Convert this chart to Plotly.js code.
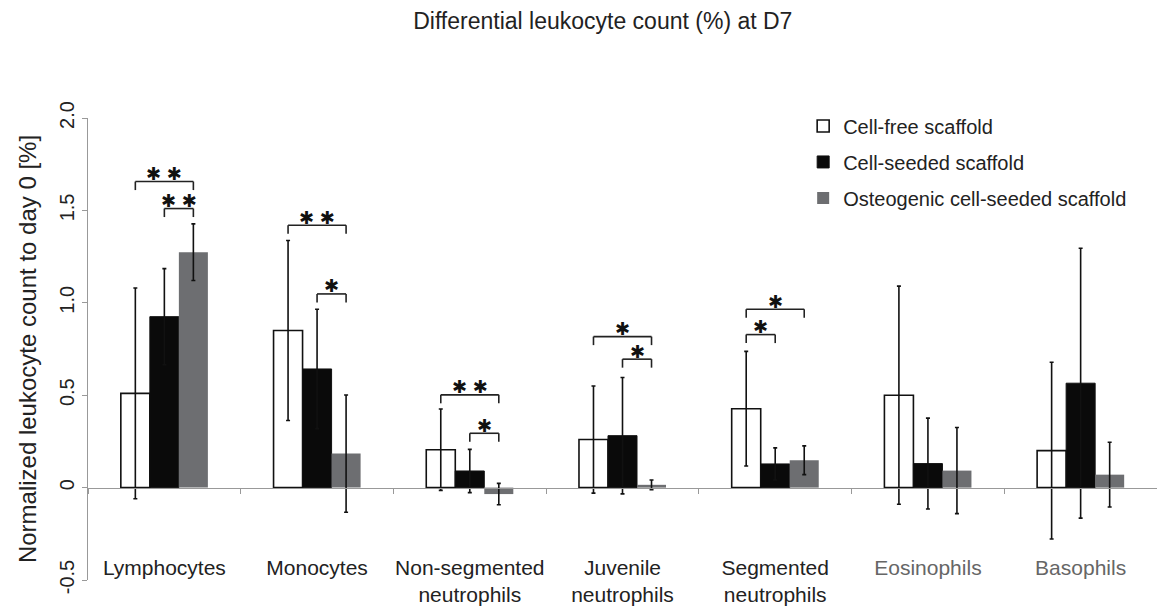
<!DOCTYPE html>
<html>
<head>
<meta charset="utf-8">
<script src="https://cdn.plot.ly/plotly-3.0.1.min.js"></script>
<style>html,body{margin:0;padding:0;background:#fff;}#chart{width:1157px;height:607px;}</style>
</head>
<body>
<div id="chart"></div>
<script>
// ---- data ----
const categories = ["Lymphocytes", "Monocytes", "Non-segmented neutrophils", "Juvenile neutrophils", "Segmented neutrophils", "Eosinophils", "Basophils"];
const tickLabels = ["Lymphocytes", "Monocytes", "Non-segmented<br>neutrophils", "Juvenile<br>neutrophils", "Segmented<br>neutrophils", "<span style='color:#666'>Eosinophils</span>", "<span style='color:#666'>Basophils</span>"];
const seriesNames = ["Cell-free scaffold", "Cell-seeded scaffold", "Osteogenic cell-seeded scaffold"];
const cellFree = [0.51, 0.85, 0.205, 0.26, 0.427, 0.50, 0.20];
const cellFreeErr = [0.57, 0.487, 0.22, 0.29, 0.31, 0.59, 0.478];
const cellSeeded = [0.925, 0.642, 0.09, 0.281, 0.128, 0.13, 0.565];
const cellSeededErr = [0.26, 0.323, 0.117, 0.315, 0.087, 0.246, 0.73];
const osteo = [1.274, 0.184, -0.035, 0.015, 0.148, 0.092, 0.07];
const osteoErr = [0.153, 0.317, 0.058, 0.026, 0.078, 0.233, 0.175];
const yTickVals = [-0.5, 0, 0.5, 1.0, 1.5, 2.0];
const yTickText = ["-0.5", "0", "0.5", "1.0", "1.5", "2.0"];
// significance brackets: category index, from series, to series, height, label
const bracketCat = [0, 0, 1, 1, 2, 2, 3, 3, 4, 4];
const bracketFrom = [0, 1, 0, 1, 0, 1, 0, 1, 0, 0];
const bracketTo = [2, 2, 2, 2, 2, 2, 2, 2, 1, 2];
const bracketY = [1.656, 1.51, 1.42, 1.048, 0.502, 0.294, 0.817, 0.695, 0.828, 0.965];
const bracketLabel = ["✱ ✱", "✱ ✱", "✱ ✱", "✱", "✱ ✱", "✱", "✱", "✱", "✱", "✱"];

// ---- styling ----
const bargap = 0.43;
const barW = (1 - bargap) / 3;
const dropY = 0.046;
const fontFam = "Liberation Sans, Arial, Helvetica, sans-serif";
const errStyle = (arr) => ({type: "data", array: arr, visible: true, color: "#111", thickness: 1.6, width: 2});

const traces = [
  {type: "bar", name: seriesNames[0], x: categories, y: cellFree, error_y: errStyle(cellFreeErr),
   marker: {color: "#ffffff", line: {color: "#111", width: 1.6}}, legendgroup: "a"},
  {type: "bar", name: seriesNames[1], x: categories, y: cellSeeded, error_y: errStyle(cellSeededErr),
   marker: {color: "#0a0a0a", line: {color: "#111", width: 1}}, legendgroup: "b"},
  {type: "bar", name: seriesNames[2], x: categories, y: osteo, error_y: errStyle(osteoErr),
   marker: {color: "#6d6e71", line: {color: "#6d6e71", width: 0}}, legendgroup: "c"}
];

const shapes = [];
const annotations = [];
for (let i = 0; i < bracketCat.length; i++) {
  const x1 = bracketCat[i] + (bracketFrom[i] - 1) * barW;
  const x2 = bracketCat[i] + (bracketTo[i] - 1) * barW;
  const y = bracketY[i];
  const ln = {type: "line", xref: "x", yref: "y", line: {color: "#222", width: 1.6}};
  shapes.push(Object.assign({}, ln, {x0: x1, x1: x1, y0: y - dropY, y1: y}));
  shapes.push(Object.assign({}, ln, {x0: x1, x1: x2, y0: y, y1: y}));
  shapes.push(Object.assign({}, ln, {x0: x2, x1: x2, y0: y - dropY, y1: y}));
  annotations.push({x: (x1 + x2) / 2, y: y, xref: "x", yref: "y", text: bracketLabel[i], showarrow: false,
    yanchor: "middle", yshift: 8, font: {family: "DejaVu Sans", size: 18, color: "#111"}});
}

const layout = {
  width: 1157, height: 607,
  margin: {l: 88, r: 0, t: 118, b: 27},
  paper_bgcolor: "#fff", plot_bgcolor: "#fff",
  font: {family: fontFam, color: "#222", size: 20},
  title: {text: "Differential leukocyte count (%) at D7", xref: "container", x: 0.521, xanchor: "center", y: 0.965, yanchor: "middle",
          font: {family: fontFam, size: 23, color: "#222"}},
  barmode: "group", bargap: bargap, bargroupgap: 0,
  showlegend: true,
  legend: {x: 0.669, xanchor: "left", y: 1.025, yanchor: "top", font: {family: fontFam, size: 20, color: "#222"},
           tracegroupgap: 7, bgcolor: "rgba(0,0,0,0)", borderwidth: 0},
  xaxis: {type: "category", anchor: "free", position: 0.2, showline: true, linecolor: "#999", linewidth: 1,
          ticks: "outside", tickson: "boundaries", ticklen: 5, tickcolor: "#999",
          tickmode: "array", tickvals: categories, ticktext: tickLabels, tickangle: 0,
          ticklabelstandoff: 61, tickfont: {family: fontFam, size: 21, color: "#222"},
          showgrid: false, zeroline: false, automargin: false, fixedrange: true},
  yaxis: {range: [-0.5, 2.0], showline: true, linecolor: "#999", linewidth: 1, ticks: "outside", ticklen: 5, tickcolor: "#999",
          tickmode: "array", tickvals: yTickVals, ticktext: yTickText, tickangle: -90,
          tickfont: {family: fontFam, size: 20, color: "#222"}, showgrid: false, zeroline: false, automargin: false,
          title: {text: "Normalized leukocyte count to day 0 [%]", font: {family: fontFam, size: 24, color: "#222"}, standoff: 12}},
  shapes: shapes,
  annotations: annotations
};

Plotly.newPlot("chart", traces, layout, {displayModeBar: false, staticPlot: true});
</script>
</body>
</html>
